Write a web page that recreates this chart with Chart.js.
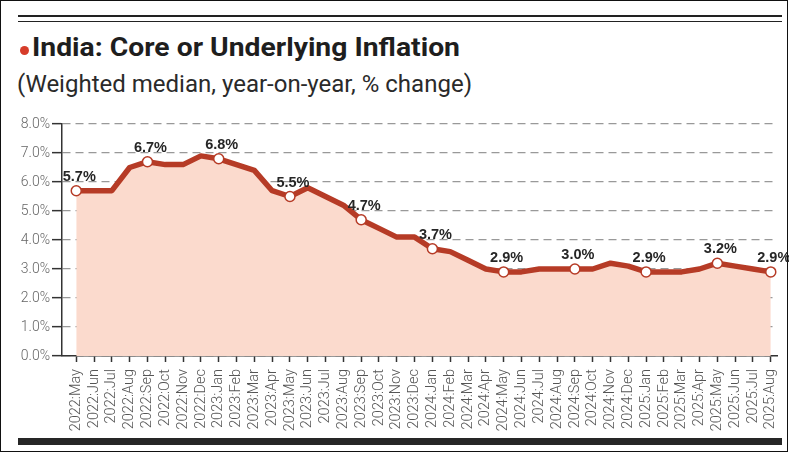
<!DOCTYPE html>
<html>
<head>
<meta charset="utf-8">
<script src="https://cdn.jsdelivr.net/npm/chart.js@4.4.1/dist/chart.umd.min.js"></script>
<style>
  html, body { margin: 0; padding: 0; background: #fff; }
  body { width: 789px; height: 454px; position: relative; overflow: hidden; }
  #frame { position: absolute; left: 0; top: 0; width: 786px; height: 450px; border: 1.5px solid #111; box-sizing: content-box; }
  .hl { position: absolute; left: 18px; width: 764px; height: 1.5px; background: #222; }
  #bar { position: absolute; left: 18px; top: 438px; width: 764px; height: 7px; background: #262626; }
  #bullet { position: absolute; left: 20px; top: 45.5px; width: 9px; height: 9px; border-radius: 50%; background: #d63c2a; }
  #title { position: absolute; left: 32px; top: 0px; line-height: 1; font-family: "Liberation Sans Narrow", "Roboto", sans-serif; font-weight: 700; font-size: 27px; color: #1e1e1e; white-space: nowrap; transform-origin: 0 0; }
  #subtitle { position: absolute; left: 17px; top: 0px; line-height: 1; font-family: "Roboto", sans-serif; font-weight: 400; font-size: 26px; color: #2a2a2a; white-space: nowrap; transform-origin: 0 0; }
  canvas { position: absolute; left: 0; top: 0; }
</style>
</head>
<body>
<div id="frame"></div>
<div class="hl" style="top:15px"></div>
<div class="hl" style="top:20.5px"></div>
<div id="bar"></div>
<div id="bullet"></div>
<div id="title">India: Core or Underlying Inflation</div>
<div id="subtitle">(Weighted median, year-on-year, % change)</div>
<canvas id="c" width="789" height="454"></canvas>
<script>
// ---- data ----
const categories = [
  "2022:May","2022:Jun","2022:Jul","2022:Aug","2022:Sep","2022:Oct","2022:Nov","2022:Dec",
  "2023:Jan","2023:Feb","2023:Mar","2023:Apr","2023:May","2023:Jun","2023:Jul","2023:Aug",
  "2023:Sep","2023:Oct","2023:Nov","2023:Dec",
  "2024:Jan","2024:Feb","2024:Mar","2024:Apr","2024:May","2024:Jun","2024:Jul","2024:Aug",
  "2024:Sep","2024:Oct","2024:Nov","2024:Dec",
  "2025:Jan","2025:Feb","2025:Mar","2025:Apr","2025:May","2025:Jun","2025:Jul","2025:Aug"
];
const coreInflation = [
  5.7, 5.7, 5.7, 6.5, 6.7, 6.6, 6.6, 6.9,
  6.8, 6.6, 6.4, 5.7, 5.5, 5.8, 5.5, 5.2,
  4.7, 4.4, 4.1, 4.1,
  3.7, 3.6, 3.3, 3.0, 2.9, 2.9, 3.0, 3.0,
  3.0, 3.0, 3.2, 3.1,
  2.9, 2.9, 2.9, 3.0, 3.2, 3.1, 3.0, 2.9
];
const labelledIndex = [0, 4, 8, 12, 16, 20, 24, 28, 32, 36, 39];
const yTicks = [0, 1, 2, 3, 4, 5, 6, 7, 8];

function fitText(id, targetW, targetCapH, baseline) {
  const el = document.getElementById(id);
  const cs = getComputedStyle(el);
  const c = document.createElement('canvas').getContext('2d');
  c.font = cs.fontWeight + ' ' + cs.fontSize + ' ' + cs.fontFamily;
  const m = c.measureText('I');
  const capH = m.actualBoundingBoxAscent;
  const sy = targetCapH / capH;
  const w = el.getBoundingClientRect().width;
  const sx = targetW / w;
  const fm = c.measureText('Hg');
  const asc = fm.fontBoundingBoxAscent, desc = fm.fontBoundingBoxDescent;
  const fs = parseFloat(cs.fontSize);
  const baseInBox = (fs - (asc + desc)) / 2 + asc;
  el.style.top = (baseline - baseInBox * sy) + 'px';
  el.style.transform = 'scale(' + sx + ',' + sy + ')';
}
fitText('title', 428, 19.5, 57);
fitText('subtitle', 455, 17.5, 92);

const LINE = '#b63b26';
const FILL = '#fbdacd';

const pointData = coreInflation.map((v, i) => ({ x: i, y: v }));
const radii = coreInflation.map((v, i) => labelledIndex.includes(i) ? 5 : 0);

const labelPlugin = {
  id: 'pointLabels',
  afterDatasetsDraw(chart) {
    const meta = chart.getDatasetMeta(0);
    const ctx = chart.ctx;
    ctx.save();
    ctx.font = 'bold 14.5px "Liberation Sans", Arial, sans-serif';
    ctx.fillStyle = '#262626';
    ctx.textAlign = 'center';
    ctx.textBaseline = 'alphabetic';
    labelledIndex.forEach(i => {
      const p = meta.data[i];
      ctx.fillText(coreInflation[i].toFixed(1) + '%', p.x + 3, p.y - 10);
    });
    ctx.restore();
  }
};

new Chart(document.getElementById('c'), {
  type: 'line',
  data: {
    datasets: [{
      data: pointData,
      borderColor: LINE,
      borderWidth: 5.5,
      backgroundColor: FILL,
      fill: 'origin',
      tension: 0,
      borderJoinStyle: 'round',
      borderCapStyle: 'round',
      pointRadius: radii,
      pointHoverRadius: radii,
      pointBackgroundColor: '#ffffff',
      pointBorderColor: LINE,
      pointBorderWidth: 1.5
    }]
  },
  options: {
    responsive: false,
    animation: false,
    devicePixelRatio: 1,
    layout: { padding: { top: 124, right: 12, left: 0, bottom: 0 } },
    plugins: { legend: { display: false }, tooltip: { enabled: false } },
    scales: {
      x: {
        type: 'linear',
        min: -0.8,
        max: 39.35,
        afterBuildTicks: (s) => { s.ticks = categories.map((_, i) => ({ value: i })); },
        afterFit: (s) => { s.height = 98; s.paddingLeft = 0; s.paddingRight = 0; },
        border: { display: true, color: '#333', width: 1.5 },
        grid: { drawOnChartArea: false, drawTicks: true, tickLength: 6, tickColor: '#333', tickWidth: 1.5 },
        ticks: {
          autoSkip: false,
          minRotation: 90,
          maxRotation: 90,
          padding: 7,
          color: '#555',
          font: { family: 'Roboto', weight: 300, size: 14.5 },
          callback: (v) => categories[v]
        }
      },
      y: {
        min: 0,
        max: 8,
        afterBuildTicks: (s) => { s.ticks = yTicks.map(v => ({ value: v })); },
        afterFit: (s) => { s.width = 62; s.paddingTop = 0; s.paddingBottom = 0; },
        border: { display: true, color: '#333', width: 1.5, dash: [8, 5] },
        grid: {
          color: '#999',
          lineWidth: 1.3,
          drawTicks: true,
          tickLength: 10,
          tickColor: '#333',
          tickWidth: 1.5,
          tickBorderDash: []
        },
        ticks: {
          padding: 2,
          color: '#666',
          font: { family: 'Roboto', weight: 300, size: 14 },
          callback: (v) => v.toFixed(1) + '%'
        }
      }
    }
  },
  plugins: [labelPlugin]
});
</script>
</body>
</html>
